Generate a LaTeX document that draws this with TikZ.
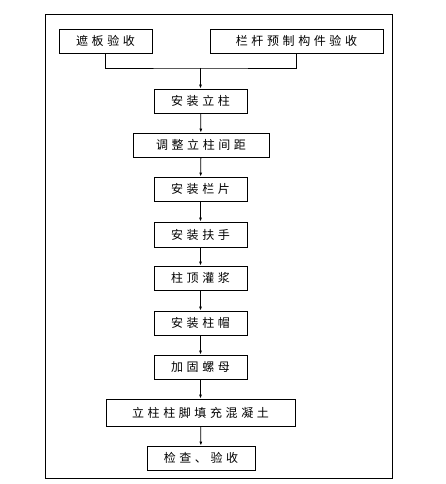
\documentclass[tikz,border=0pt]{standalone}
\usepackage{fontspec}
\newfontfamily\cjk[LetterSpace=30]{Noto Sans CJK SC}
\usetikzlibrary{arrows.meta}
\begin{document}
\begin{tikzpicture}[x=1pt,y=-1pt,
  box/.style={draw,line width=0.8pt,rectangle,inner sep=0pt,minimum height=24pt,font=\cjk\fontsize{12}{14}\selectfont},
  conn/.style={line width=0.8pt},
  arr/.style={line width=0.8pt,-{Latex[length=4pt,width=3pt]}}]
\useasboundingbox (0,0) rectangle (445,484);
\draw[line width=0.8pt] (45,14) rectangle (392,478);
\node[box,minimum width=93pt] (b1) at (105.5,41) {遮板验收};
\node[box,minimum width=173pt] (b2) at (296.5,41) {栏杆预制构件验收};
\node[box,minimum width=93pt] (b3) at (200.5,101) {安装立柱};
\node[box,minimum width=136pt] (b4) at (201,145) {调整立柱间距};
\node[box,minimum width=93pt] (b5) at (200.5,189) {安装栏片};
\node[box,minimum width=93pt,minimum height=25pt] (b6) at (200.5,234.5) {安装扶手};
\node[box,minimum width=93pt] (b7) at (200.5,278) {柱顶灌浆};
\node[box,minimum width=93pt] (b8) at (200.5,323) {安装柱帽};
\node[box,minimum width=93pt] (b9) at (200.5,367) {加固螺母};
\node[box,minimum width=189pt,minimum height=27pt] (b10) at (200.5,412.5) {立柱柱脚填充混凝土};
\node[box,minimum width=108pt] (b11) at (201,458) {检查、验收};
\coordinate (j) at (200.5,68);
\draw[conn] (b1.south) |- (j) -| (b2.south);
\draw[arr] (j) -- (b3.north);
\draw[arr] (b3) -- (b4);
\draw[arr] (b4) -- (b5);
\draw[arr] (b5) -- (b6);
\draw[arr] (b6) -- (b7);
\draw[arr] (b7) -- (b8);
\draw[arr] (b8) -- (b9);
\draw[arr] (b9) -- (b10);
\draw[arr] (b10) -- (b11);
\end{tikzpicture}
\end{document}
